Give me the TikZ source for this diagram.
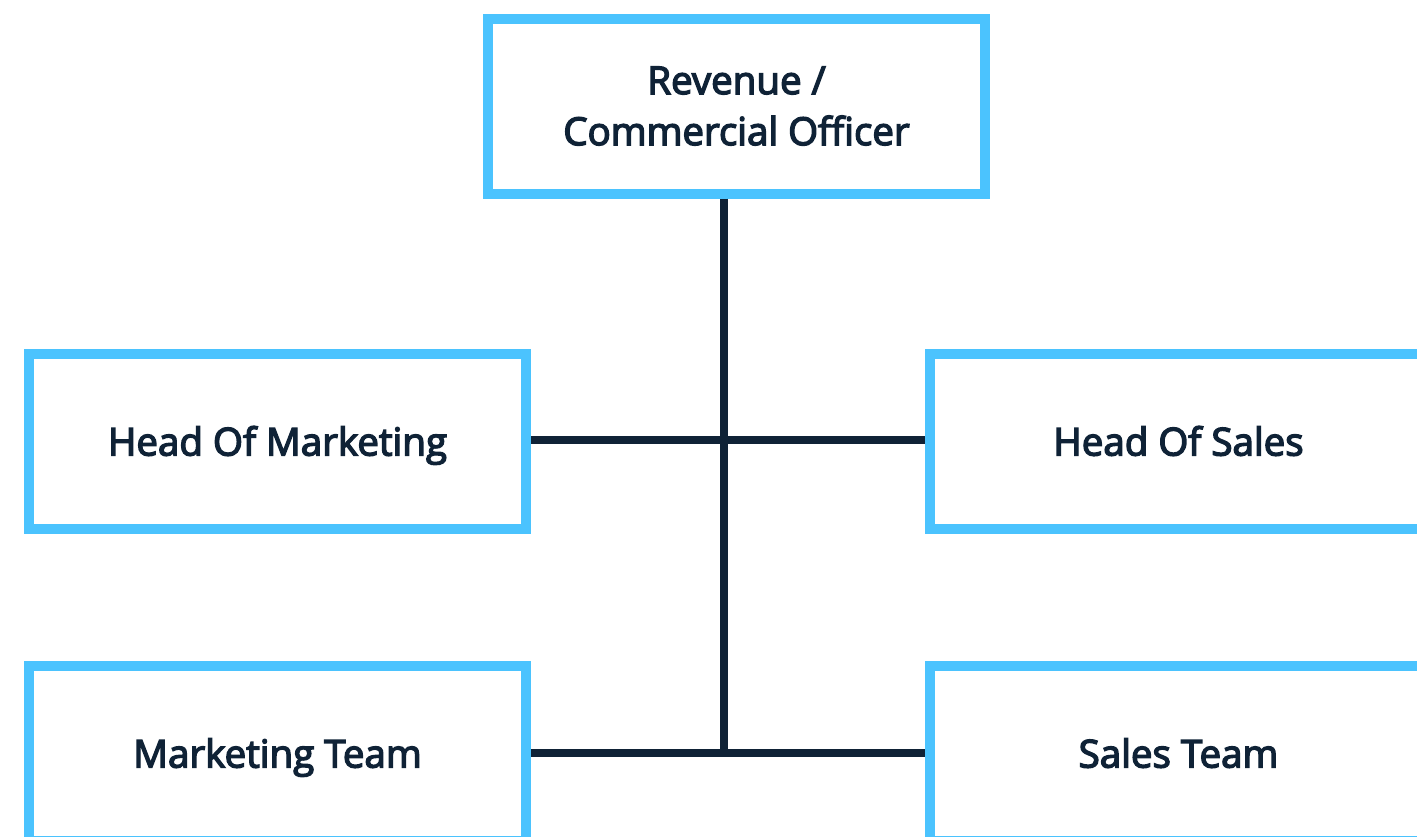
\documentclass[tikz,border=0pt]{standalone}
\usepackage{fontspec}
\newfontfamily\rolefont{Open Sans}[FakeBold=3.6]
\definecolor{boxblue}{HTML}{4BC3FE}
\definecolor{navy}{HTML}{0F2236}
\tikzset{
	role/.style={draw=boxblue,line width=10pt,fill=white,minimum width=497pt,minimum height=175pt,inner sep=0pt,align=center,text=navy,font=\fontsize{38.5}{51}\selectfont\rolefont},
	oneline/.style={role,text height=28pt,text depth=0pt},
	link/.style={draw=navy,line width=7.5pt}
}
\begin{document}
\begin{tikzpicture}[x=1pt,y=-1pt]
			\useasboundingbox (0,0) rectangle (1417,836);
			\clip (0,0) rectangle (1417,836);
			\coordinate (j1) at (724,440);
			\coordinate (j2) at (724,753);
			\node[role] (rco) at (736.5,106) {Revenue /\\Commercial Officer};
			\node[oneline] (hom) at (277.5,441.5) {Head Of Marketing};
			\node[oneline] (hos) at (1178.5,441.5) {Head Of Sales};
			\node[oneline] (mt) at (277.5,753.5) {Marketing Team};
			\node[oneline] (st) at (1178.5,753.5) {Sales Team};
			\draw[link] (rco.south -| j1)--(j2);
			\draw[link] (hom.east |- j1)--(hos.west |- j1);
			\draw[link] (mt.east |- j2)--(st.west |- j2);
\end{tikzpicture}
\end{document}
